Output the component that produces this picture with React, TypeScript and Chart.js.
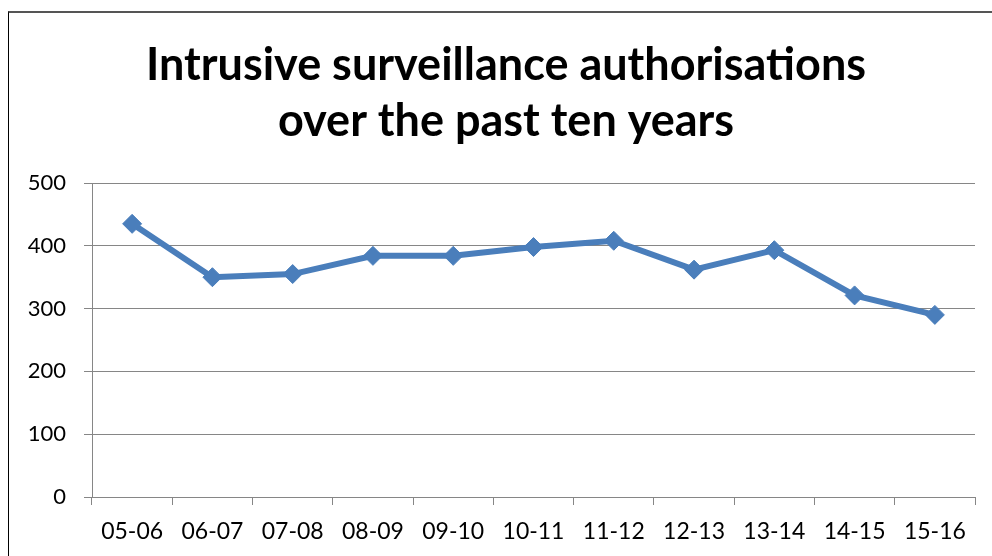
import React, { useEffect, useRef } from "react";
import { Chart, registerables } from "chart.js";

Chart.register(...registerables);

const categories = ["05-06", "06-07", "07-08", "08-09", "09-10", "10-11", "11-12", "12-13", "13-14", "14-15", "15-16"];
const authorisations = [435, 350, 355, 384, 384, 398, 408, 362, 393, 321, 290];
const titleLines = ["Intrusive surveillance authorisations", "over the past ten years"];

const LINE_COLOR = "#4A7EBB";
const GRID_COLOR = "#868686";

const titleShift = {
  id: "titleShift",
  afterLayout(chart: any) {
    const t = chart.titleBlock;
    if (t) {
      t.left = 37;
      t.right = 975;
    }
  },
};

export default function App() {
  const ref = useRef<HTMLCanvasElement>(null);

  useEffect(() => {
    if (!ref.current) return;
    const chart = new Chart(ref.current, {
      type: "line",
      data: {
        labels: categories,
        datasets: [
          {
            data: authorisations,
            borderColor: LINE_COLOR,
            backgroundColor: LINE_COLOR,
            borderWidth: 6,
            pointStyle: "rectRot",
            pointRadius: 9.5,
            pointBorderWidth: 1,
            pointBackgroundColor: LINE_COLOR,
            pointBorderColor: LINE_COLOR,
            tension: 0,
          },
        ],
      },
      options: {
        responsive: false,
        animation: false,
        layout: { padding: { top: 0, left: 0, right: 17, bottom: 0 } },
        plugins: {
          legend: { display: false },
          tooltip: { enabled: false },
          title: {
            display: true,
            text: titleLines,
            color: "#000",
            font: { family: "Lato", size: 45, weight: "bold", lineHeight: 56 / 45 },
            padding: { top: 37.5, bottom: 33.5 },
          },
        },
        scales: {
          x: {
            offset: true,
            grid: {
              offset: true,
              drawOnChartArea: false,
              drawTicks: true,
              tickLength: 8,
              color: GRID_COLOR,
            },
            border: { color: GRID_COLOR },
            ticks: {
              color: "#000",
              font: { family: "Lato", size: 23 },
              padding: 13,
              maxRotation: 0,
              autoSkip: false,
            },
            afterFit: (s: any) => {
              s.height = 59;
            },
          },
          y: {
            min: 0,
            max: 500,
            grid: { color: GRID_COLOR, tickLength: 8 },
            border: { color: GRID_COLOR },
            ticks: {
              stepSize: 100,
              color: "#000",
              font: { family: "Lato", size: 22 },
              padding: 18,
            },
            afterFit: (s: any) => {
              s.width = 92;
            },
          },
        },
      },
      plugins: [titleShift],
    });
    return () => chart.destroy();
  }, []);

  return (
    <div style={{ position: "fixed", left: 0, top: 0, width: 992, height: 556, background: "#fff" }}>
      <div
        style={{
          position: "absolute",
          left: 8,
          top: 11,
          right: 0,
          bottom: 0,
          borderLeft: "1px solid #000",
          borderTop: "2px solid #555",
        }}
      />
      <canvas ref={ref} width={992} height={556} style={{ position: "absolute", left: 0, top: 0 }} />
    </div>
  );
}
